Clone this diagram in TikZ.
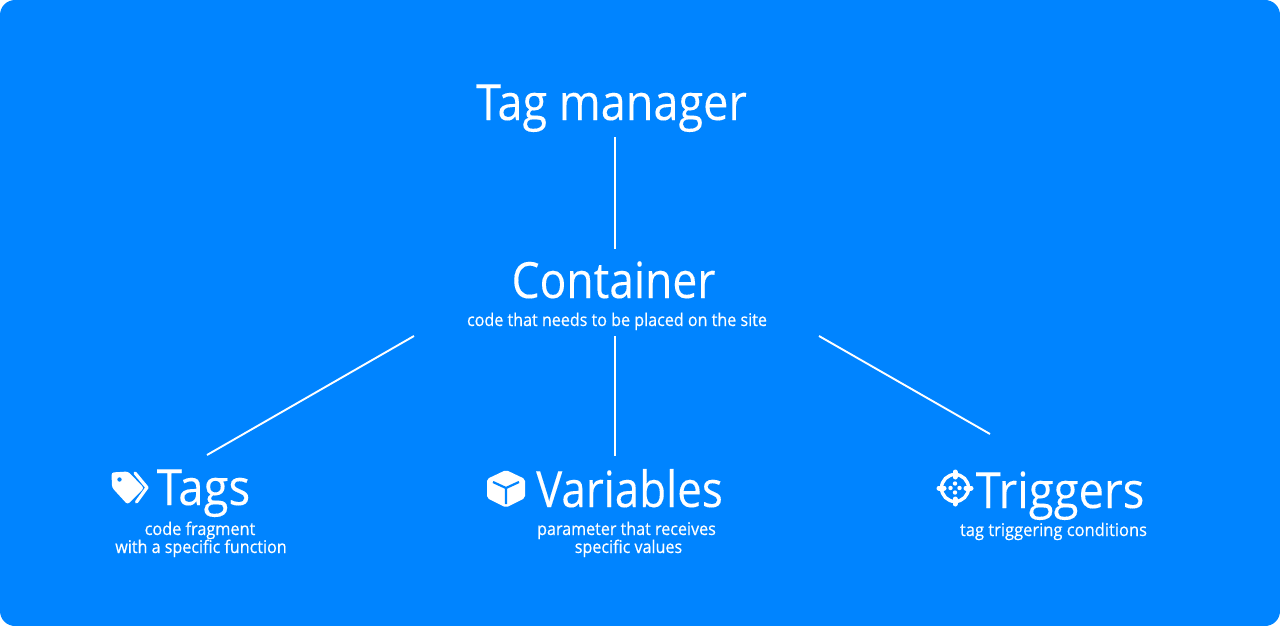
\documentclass[tikz,border=0pt]{standalone}
\usepackage{fontspec}
\setmainfont{Open Sans}[FakeStretch=0.91,FakeBold=0.15]
\newfontfamily\subfont{Open Sans}[FakeStretch=0.92,FakeBold=0.5]
\definecolor{bluebg}{HTML}{0084FF}
\tikzset{
  heading/.style={text=white,inner sep=0pt,anchor=base,font=\fontsize{50}{56}\selectfont},
  subhead/.style={text=white,inner sep=0pt,anchor=base,align=center,font=\fontsize{17.5}{18}\selectfont\subfont},
  slot/.style={inner sep=0pt,outer sep=0pt,minimum width=#1},
  link/.style={draw=white,line width=1.9pt},
}
\begin{document}
\begin{tikzpicture}[x=1pt,y=-1pt]
\useasboundingbox (0,0) rectangle (1280,626);
\fill[white] (0,0) rectangle (1280,626);
\fill[bluebg,rounded corners=15pt] (0,0) rectangle (1280,626);
% invisible slots the connectors attach to
\node[slot=60pt,minimum height=74pt] (mgr) at (615,100) {};
\node[slot=405pt,minimum height=87pt] (cont) at (616.5,292.5) {};
\node[slot=60pt,minimum height=70pt] (tags) at (207,490) {};
\node[slot=60pt,minimum height=70pt] (vars) at (615,491) {};
\node[slot=60pt,minimum height=70pt] (trig) at (990,469) {};
% texts
\node[heading] (tmgr) at (611.5,120) {\scalebox{.99}[1]{Tag manager}};
\node[heading] (tcont) at (613.5,298) {\scalebox{.975}[1]{Container}};
\node[subhead] (scont) at (617,326) {code that needs to be placed on the site};
\node[heading] (ttags) at (203.5,505) {Tags};
\node[subhead] (stags) at (200,535) {\scalebox{1.01}[1]{code fragment}};
\node[subhead] (stags2) at (201,553) {with a specific function};
\node[heading] (tvars) at (629.5,507) {\scalebox{.965}[1]{Variables}};
\node[subhead] (svars) at (626.5,535) {parameter that receives};
\node[subhead] (svars2) at (628.5,553) {specific values};
\node[heading] (ttrig) at (1060,508) {Triggers};
\node[subhead] (strig) at (1053.5,536) {\scalebox{1.025}[1]{tag triggering conditions}};
% connectors
\draw[link] (mgr.south) -- (mgr.south |- cont.north);
\draw[link] (cont.south west) -- (tags.north);
\draw[link] (vars.north |- cont.south) -- (vars.north);
\draw[link] (cont.south east) -- (trig.north);
% tag icon
\fill[white,rounded corners=2.5pt] (111.5,472.5) -- (128,471.5) -- (144,488) -- (127.5,504.5) -- (112,487.5) -- cycle;
\fill[bluebg] (119.5,479.5) circle (2.2pt);
\draw[white,line width=3.2pt,line cap=round,line join=round] (135,473) -- (147,487.5) -- (136.5,502);
% cube icon
\fill[white,rounded corners=2pt] (506,470) -- (525,479) -- (525,498) -- (506,507.5) -- (487,498) -- (487,479) -- cycle;
\draw[bluebg,line width=2.2pt] (493,482) -- (506,488) -- (519,482) (506,488) -- (506,504);
% target icon
\draw[white,line width=3.4pt] (955,488) circle (13.5pt);
\draw[white,line width=5pt,line cap=round] (955,472) -- (955,477) (955,499) -- (955,504) (939,488) -- (944,488) (966,488) -- (971,488);
\fill[white] (955,483.5) circle (2.2pt) (955,492.5) circle (2.2pt) (950.5,488) circle (2.2pt) (959.5,488) circle (2.2pt);
\end{tikzpicture}
\end{document}
